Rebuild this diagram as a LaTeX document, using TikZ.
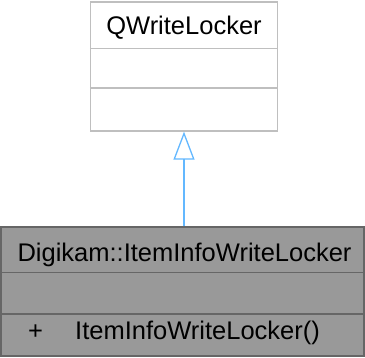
\documentclass[tikz,border=0pt]{standalone}
\usepackage{fontspec}
\setmainfont{Liberation Sans}
\usetikzlibrary{arrows.meta}
\definecolor{boxgray}{HTML}{BFBFBF}
\definecolor{darkborder}{HTML}{666666}
\definecolor{darkfill}{HTML}{999999}
\definecolor{arrowblue}{HTML}{63B8FF}
\begin{document}
\begin{tikzpicture}[x=1pt,y=1pt,
  basebox/.style={draw=boxgray, fill=white, line width=1.3pt, minimum width=187pt, minimum height=129pt, inner sep=0pt},
  derivedbox/.style={draw=darkborder, fill=darkfill, line width=1.3pt, minimum width=363pt, minimum height=129pt, inner sep=0pt},
  lbl/.style={inner sep=0pt, font=\fontsize{25.5}{30}\selectfont},
  inherit/.style={draw=arrowblue, line width=1.3pt, -{Triangle[open, length=28pt, width=21pt, fill=white]}}]
\useasboundingbox (0,0) rectangle (365,358);
\node[basebox] (base) at (184,291.5) {};
\draw[boxgray, line width=1.3pt] (base.west |- 0,309.3) -- (base.east |- 0,309.3);
\draw[boxgray, line width=1.3pt] (base.west |- 0,270) -- (base.east |- 0,270);
\node[lbl, anchor=base] (basename) at (184,323) {QWriteLocker};
\node[derivedbox] (derived) at (182.5,66.5) {};
\draw[darkborder, line width=1.3pt] (derived.west |- 0,85.3) -- (derived.east |- 0,85.3);
\draw[darkborder, line width=1.3pt] (derived.west |- 0,44) -- (derived.east |- 0,44);
\node[lbl, anchor=base] (derivedname) at (184.5,96.3) {Digikam::ItemInfoWriteLocker};
\node[lbl, anchor=base west] (plus) at (28,18) {+};
\node[lbl, anchor=base west] (method) at (75,18) {ItemInfoWriteLocker()};
\draw[inherit] (derived.north -| base.south) -- (base.south);
\end{tikzpicture}
\end{document}
